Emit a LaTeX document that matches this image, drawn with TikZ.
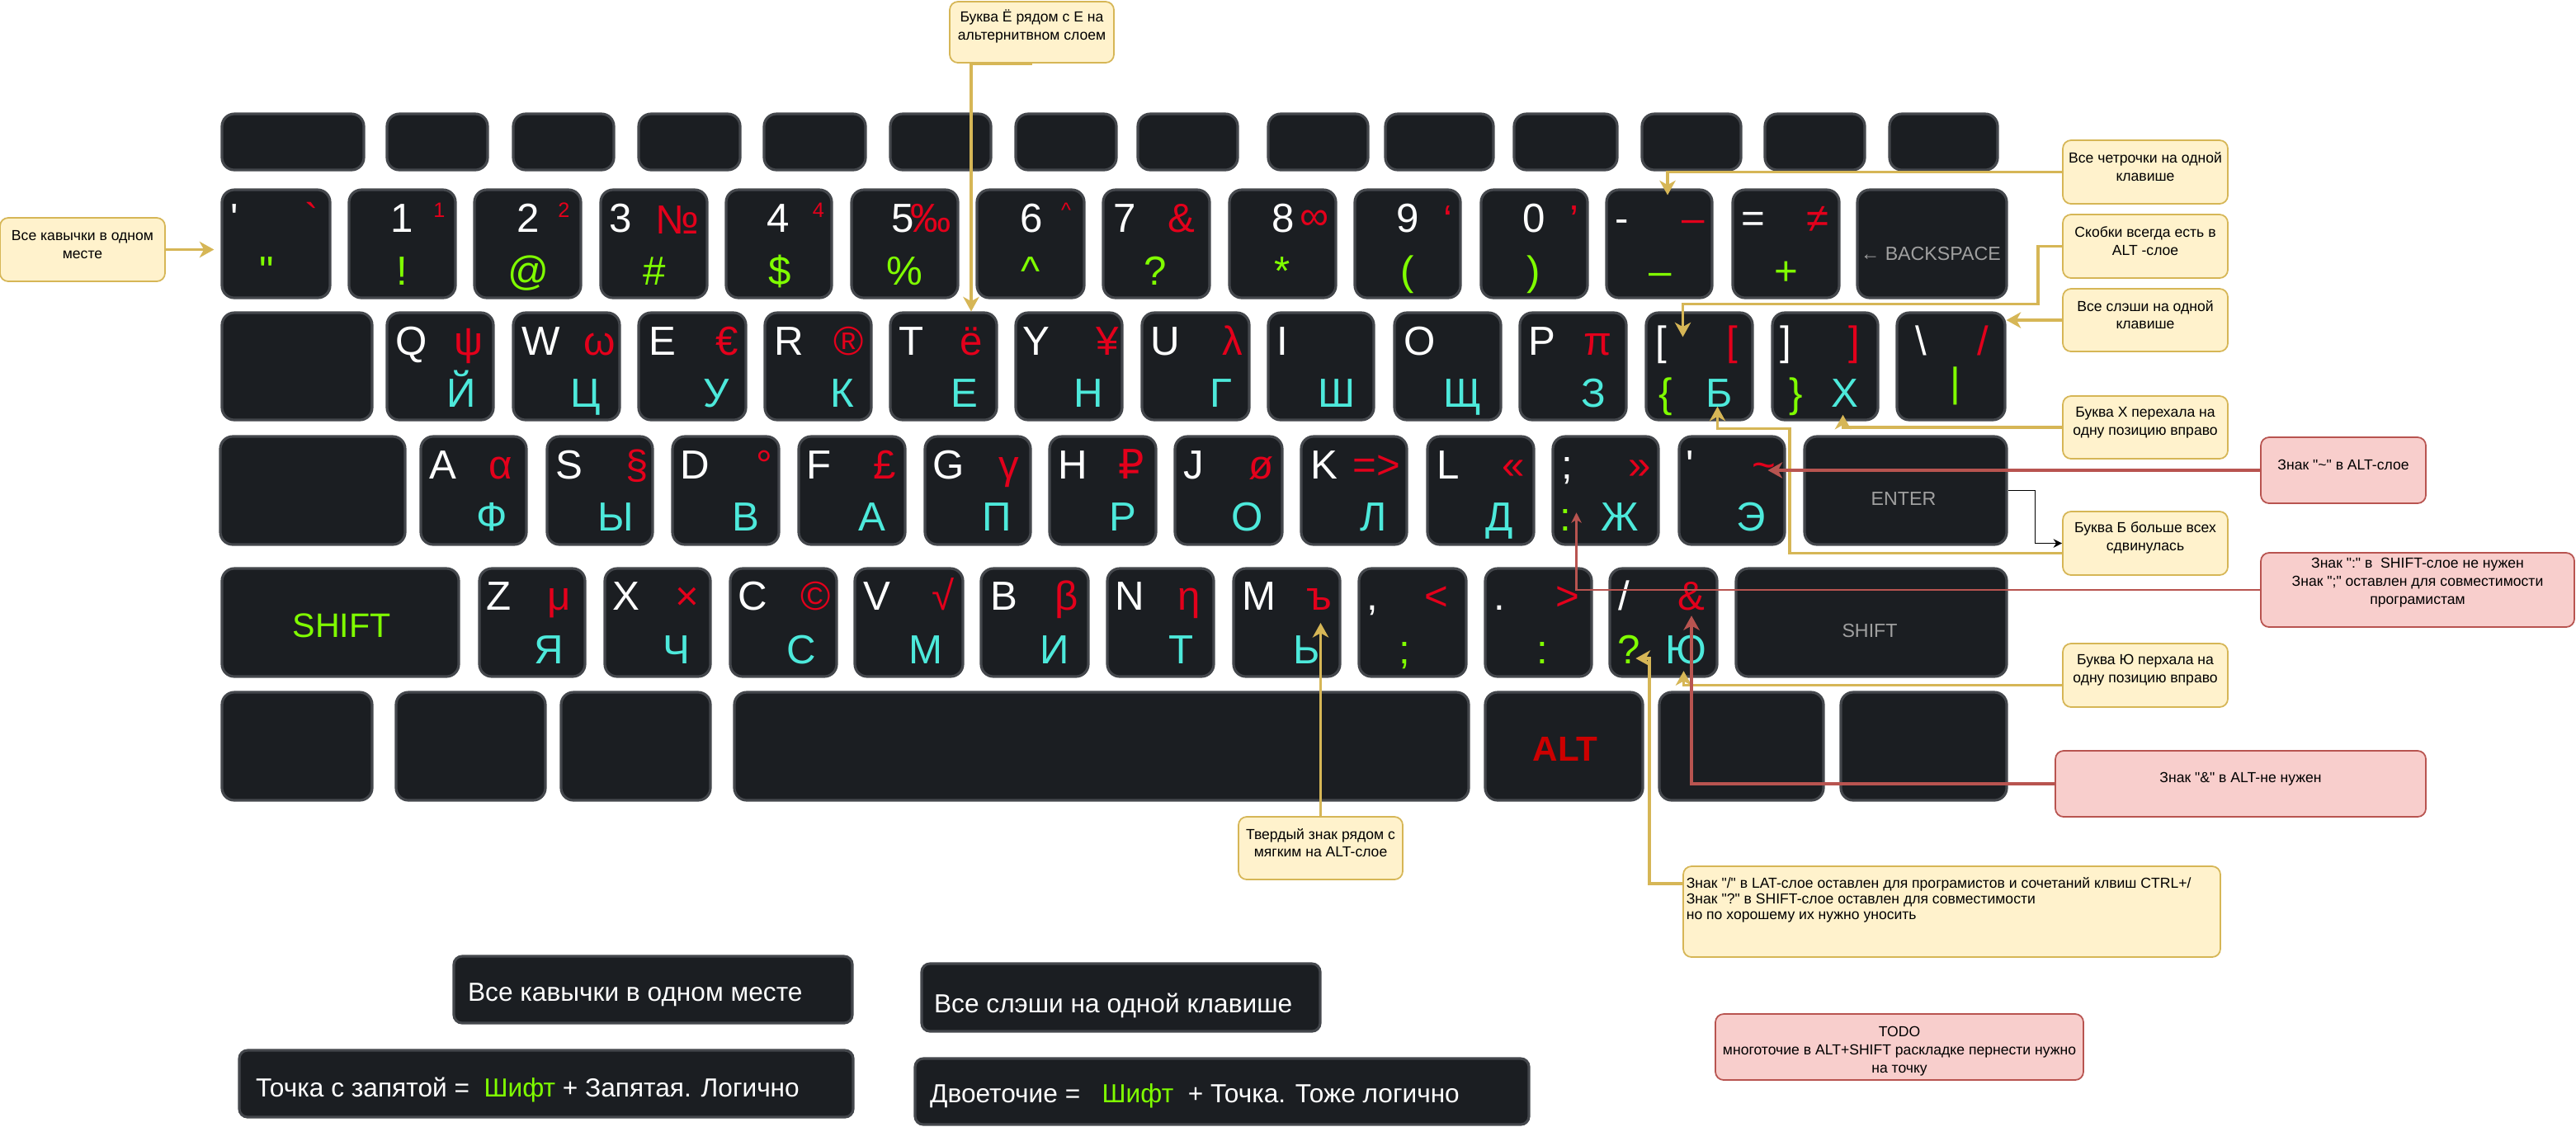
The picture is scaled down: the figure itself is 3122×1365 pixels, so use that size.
\documentclass[tikz,border=0pt]{standalone}
\usepackage{fontspec}
\setmainfont{Liberation Sans}[Ligatures=TeXOff]
\newfontfamily\dejavu{DejaVu Sans}
\usetikzlibrary{arrows.meta,positioning,calc,fit}
\definecolor{colkey}{HTML}{1B1E22}
\definecolor{coledge}{HTML}{44474C}
\definecolor{colalt}{HTML}{E3001B}
\definecolor{colcyr}{HTML}{4DE9DB}
\definecolor{colshift}{HTML}{80FF00}
\definecolor{colgrey}{HTML}{A0A0A0}
\definecolor{colaltkey}{HTML}{CC0000}
\definecolor{colnote}{HTML}{FFF2CC}
\definecolor{colnoteedge}{HTML}{D6B656}
\definecolor{colwarn}{HTML}{F8CECC}
\definecolor{colwarnedge}{HTML}{B85450}

\begin{document}
\begin{tikzpicture}[x=0.01cm, y=-0.01cm,
  kbkey/.style={draw=coledge, fill=colkey, line width=0.9pt, rounded corners=0.15cm, inner sep=0pt},
  lat/.style={text=white, font=\fontsize{14}{16}\selectfont, inner sep=0pt, anchor=base},
  alt/.style={text=colalt, font=\fontsize{14}{16}\selectfont, inner sep=0pt, anchor=base},
  altsm/.style={text=colalt, font=\fontsize{7.2}{8}\selectfont, inner sep=0pt, anchor=base},
  cyr/.style={text=colcyr, font=\fontsize{14}{16}\selectfont, inner sep=0pt, anchor=base},
  shf/.style={text=colshift, font=\fontsize{14}{16}\selectfont, inner sep=0pt, anchor=base},
  keycap/.style={text=colgrey, font=\fontsize{6.6}{8}\selectfont, inner sep=0pt},
  note/.style={draw=colnoteedge, fill=colnote, line width=0.5pt, rounded corners=0.1cm, inner sep=0pt, align=center, font=\fontsize{5}{6.2}\selectfont},
  warn/.style={draw=colwarnedge, fill=colwarn, line width=0.5pt, rounded corners=0.1cm, inner sep=0pt, align=center, font=\fontsize{5}{6.2}\selectfont},
  darkbox/.style={draw=coledge, fill=colkey, line width=0.9pt, rounded corners=0.1cm, inner sep=0pt},
  darktext/.style={text=white, font=\fontsize{9}{11}\selectfont, inner sep=0pt, anchor=west},
  goldarrow/.style={draw=colnoteedge, line width=1pt, -{Stealth[length=5pt,width=5.5pt,inset=1.5pt]}},
  warnarrow/.style={draw=colwarnedge, line width=1.1pt, -{Stealth[length=5pt,width=5.5pt,inset=1.5pt]}},
  warnthin/.style={draw=colwarnedge, line width=0.6pt, -{Stealth[length=3.5pt,width=3.5pt,inset=1pt]}},
  plainarrow/.style={draw=black, line width=0.4pt, -{Stealth[length=3pt,width=3pt]}},
]
  \useasboundingbox (0,0) rectangle (3122,1365);
  \fill[white] (0,0) rectangle (3122,1365);

  % function row
  \node[kbkey, fit={(269,138) (441,206)}] (kesc) {};
  \node[kbkey, fit={(469,138) (591,206)}] (kf1) {};
  \node[kbkey, fit={(622,138) (744,206)}] (kf2) {};
  \node[kbkey, fit={(774,138) (897,206)}] (kf3) {};
  \node[kbkey, fit={(926,138) (1049,206)}] (kf4) {};
  \node[kbkey, fit={(1079,138) (1201,206)}] (kf5) {};
  \node[kbkey, fit={(1231,138) (1353,206)}] (kf6) {};
  \node[kbkey, fit={(1379,138) (1500,206)}] (kf7) {};
  \node[kbkey, fit={(1537,138) (1658,206)}] (kf8) {};
  \node[kbkey, fit={(1679,138) (1810,206)}] (kf9) {};
  \node[kbkey, fit={(1835,138) (1960,206)}] (kf10) {};
  \node[kbkey, fit={(1990,138) (2110,206)}] (kf11) {};
  \node[kbkey, fit={(2139,138) (2260,206)}] (kf12) {};
  \node[kbkey, fit={(2290,138) (2421,206)}] (kf13) {};

  % number row
  \node[kbkey, fit={(269,230) (400,361)}] (kgrave) {};
  \node[kbkey, fit={(423,230) (552,361)}] (k1) {};
  \node[kbkey, fit={(575,230) (704,361)}] (k2) {};
  \node[kbkey, fit={(728,230) (857,361)}] (k3) {};
  \node[kbkey, fit={(880,230) (1008,361)}] (k4) {};
  \node[kbkey, fit={(1032,230) (1161,361)}] (k5) {};
  \node[kbkey, fit={(1184,230) (1314,361)}] (k6) {};
  \node[kbkey, fit={(1337,230) (1466,361)}] (k7) {};
  \node[kbkey, fit={(1490,230) (1619,361)}] (k8) {};
  \node[kbkey, fit={(1642,230) (1770,361)}] (k9) {};
  \node[kbkey, fit={(1795,230) (1924,361)}] (k0) {};
  \node[kbkey, fit={(1947,230) (2075,361)}] (kminus) {};
  \node[kbkey, fit={(2100,230) (2229,361)}] (kequal) {};
  \node[kbkey, fit={(2251,230) (2432,361)}] (kback) {};

  \node[lat] (lgrave) at (284.5,281) {'}; \node[alt] (rgrave) at (378,281) {`}; \node[shf] (ggrave) at (323,345) {"};
  \node[lat] (l1) at (487.5,281) {1}; \node[altsm] (r1) at (532.5,263) {1}; \node[shf] (g1) at (487.5,345) {!};
  \node[lat] (l2) at (640,281) {2}; \node[altsm] (r2) at (683.5,263) {2}; \node[shf] (g2) at (640,345) {@};
  \node[lat] (l3) at (752.5,281) {3}; \node[alt] (r3) at (820.5,283) {№}; \node[shf] (g3) at (793,345) {\#};
  \node[lat] (l4) at (943.5,281) {4}; \node[altsm] (r4) at (992,263) {4}; \node[shf] (g4) at (945,345) {\$};
  \node[lat] (l5) at (1094.5,281) {5}; \node[alt] (r5) at (1128,281) {‰}; \node[shf] (g5) at (1096.5,345) {\%};
  \node[lat] (l6) at (1250,281) {6}; \node[altsm] (r6) at (1292,263) {\textasciicircum}; \node[shf] (g6) at (1249.5,345) {\textasciicircum};
  \node[lat] (l7) at (1363,281) {7}; \node[alt] (r7) at (1432,281) {\&}; \node[shf] (g7) at (1400,345) {?};
  \node[lat] (l8) at (1555.5,281) {8}; \node[alt] (r8) at (1593,278) {∞}; \node[shf] (g8) at (1554,345) {*};
  \node[lat] (l9) at (1706.5,281) {9}; \node[alt] (r9) at (1754.5,283) {‘}; \node[shf] (g9) at (1705.5,345) {(};
  \node[lat] (l0) at (1859.5,281) {0}; \node[alt] (r0) at (1908,283) {’}; \node[shf] (g0) at (1859,345) {)};
  \node[lat] (lminus) at (1966,281) {-}; \node[alt] (rminus) at (2052,281) {–}; \node[shf] (gminus) at (2012,345) {–};
  \node[lat] (lequal) at (2125,281) {=}; \node[alt] (requal) at (2203,281) {≠}; \node[shf] (gequal) at (2165,345) {+};
  \node[keycap] (tback) at (2340,307) {← BACKSPACE};

  % top letter row
  \node[kbkey, fit={(269,379) (451,509)}] (ktab) {};
  \node[kbkey, fit={(469,379) (598,509)}] (kq) {};
  \node[kbkey, fit={(622,379) (751,509)}] (kw) {};
  \node[kbkey, fit={(774,379) (904,509)}] (ke) {};
  \node[kbkey, fit={(927,379) (1056,509)}] (kr) {};
  \node[kbkey, fit={(1079,379) (1208,509)}] (kt) {};
  \node[kbkey, fit={(1231,379) (1360,509)}] (ky) {};
  \node[kbkey, fit={(1384,379) (1514,509)}] (ku) {};
  \node[kbkey, fit={(1537,379) (1665,509)}] (ki) {};
  \node[kbkey, fit={(1690,379) (1819,509)}] (ko) {};
  \node[kbkey, fit={(1842,379) (1971,509)}] (kp) {};
  \node[kbkey, fit={(1995,379) (2124,509)}] (klbr) {};
  \node[kbkey, fit={(2148,379) (2276,509)}] (krbr) {};
  \node[kbkey, fit={(2299,379) (2430,509)}] (kbsl) {};

  \node[lat] (lq) at (499,430) {Q}; \node[alt] (rq) at (568.5,430) {ψ}; \node[cyr] (yq) at (559.5,493) {Й};
  \node[lat] (lw) at (656,430) {W}; \node[alt] (rw) at (727,430) {ω}; \node[cyr] (yw) at (710,493) {Ц};
  \node[lat] (le) at (802.5,430) {E}; \node[alt] (re) at (881,430) {€}; \node[cyr] (ye) at (868.5,493) {У};
  \node[lat] (lr) at (956,430) {R}; \node[alt] (rr) at (1028.5,430) {®}; \node[cyr] (yr) at (1021,493) {К};
  \node[lat] (lt) at (1104.5,430) {T}; \node[alt] (rt) at (1177,430) {ё}; \node[cyr] (yt) at (1168.5,493) {Е};
  \node[lat] (ly) at (1256,430) {Y}; \node[alt] (ry) at (1342,430) {¥}; \node[cyr] (yy) at (1319,493) {Н};
  \node[lat] (lu) at (1412.5,430) {U}; \node[alt] (ru) at (1494,430) {λ}; \node[cyr] (yu) at (1479.5,493) {Г};
  \node[lat] (li) at (1554.5,430) {I}; \node[cyr] (yi) at (1620,493) {Ш};
  \node[lat] (lo) at (1720.5,430) {O}; \node[cyr] (yo) at (1773,493) {Щ};
  \node[lat] (lp) at (1868.5,430) {P}; \node[alt] (rp) at (1936,430) {π}; \node[cyr] (yp) at (1931.5,493) {З};
  \node[lat] (llbr) at (2013,430) {[}; \node[alt] (rlbr) at (2099.5,430) {[}; \node[shf] (glbr) at (2019,493) {\{}; \node[cyr] (ylbr) at (2083.5,493) {Б};
  \node[lat] (lrbr) at (2164.5,430) {]}; \node[alt] (rrbr) at (2247.5,430) {]}; \node[shf] (grbr) at (2176.5,493) {\}}; \node[cyr] (yrbr) at (2235.5,493) {Х};
  \node[lat] (lbsl) at (2328,430) {\textbackslash}; \node[alt] (rbsl) at (2403.5,430) {/}; \node[shf] (gbsl) at (2370,480) {|};

  % home row
  \node[kbkey, fit={(267,529) (491,660)}] (kcaps) {};
  \node[kbkey, fit={(510,529) (638,660)}] (ka) {};
  \node[kbkey, fit={(663,529) (791,660)}] (ks) {};
  \node[kbkey, fit={(815,529) (944,660)}] (kd) {};
  \node[kbkey, fit={(968,529) (1097,660)}] (kf) {};
  \node[kbkey, fit={(1121,529) (1249,660)}] (kg) {};
  \node[kbkey, fit={(1272,529) (1401,660)}] (kh) {};
  \node[kbkey, fit={(1424,529) (1554,660)}] (kj) {};
  \node[kbkey, fit={(1577,529) (1705,660)}] (kk) {};
  \node[kbkey, fit={(1730,529) (1859,660)}] (kl) {};
  \node[kbkey, fit={(1882,529) (2010,660)}] (ksemi) {};
  \node[kbkey, fit={(2035,529) (2163,660)}] (kquote) {};
  \node[kbkey, fit={(2187,529) (2432,660)}] (kenter) {};

  \node[lat] (la) at (537,580) {A}; \node[alt] (ra) at (607,580) {α}; \node[cyr] (ya) at (596.5,643) {Ф};
  \node[lat] (ls) at (689.5,580) {S}; \node[alt] (rs) at (772.5,580) {§}; \node[cyr] (ys) at (746.5,643) {Ы};
  \node[lat] (ld) at (842.5,580) {D}; \node[alt] (rd) at (926,580) {°}; \node[cyr] (yd) at (904,643) {В};
  \node[lat] (lf) at (993,580) {F}; \node[alt] (rf) at (1072.5,580) {£}; \node[cyr] (yf) at (1056.5,643) {А};
  \node[lat] (lg) at (1150,580) {G}; \node[alt] (rg) at (1222.5,580) {γ}; \node[cyr] (yg) at (1208,643) {П};
  \node[lat] (lh) at (1300,580) {H}; \node[alt] (rh) at (1371,580) {\dejavu ₽}; \node[cyr] (yh) at (1361,643) {Р};
  \node[lat] (lj) at (1446.5,580) {J}; \node[alt] (rj) at (1529,580) {ø}; \node[cyr] (yj) at (1511.5,643) {О};
  \node[lat] (lk) at (1605,580) {K}; \node[alt] (rk) at (1668,580) {=>}; \node[cyr] (yk) at (1665,643) {Л};
  \node[lat] (ll) at (1755,580) {L}; \node[alt] (rl) at (1834.5,580) {«}; \node[cyr] (yl) at (1817.5,643) {Д};
  \node[lat] (lsemi) at (1899.5,580) {;}; \node[alt] (rsemi) at (1987.5,580) {»}; \node[shf] (gsemi) at (1897.5,643) {:}; \node[cyr] (ysemi) at (1963,643) {Ж};
  \node[lat] (lquote) at (2048.5,580) {'}; \node[alt] (rquote) at (2137.5,580) {\textasciitilde}; \node[cyr] (yquote) at (2122.5,643) {Э};
  \node[keycap] (tenter) at (2307,604) {ENTER};

  % bottom letter row
  \node[kbkey, fit={(269,689) (556,820)}] (klshift) {};
  \node[kbkey, fit={(581,689) (709,820)}] (kz) {};
  \node[kbkey, fit={(733,689) (861,820)}] (kx) {};
  \node[kbkey, fit={(885,689) (1014,820)}] (kc) {};
  \node[kbkey, fit={(1036,689) (1167,820)}] (kv) {};
  \node[kbkey, fit={(1189,689) (1319,820)}] (kb) {};
  \node[kbkey, fit={(1342,689) (1471,820)}] (kn) {};
  \node[kbkey, fit={(1495,689) (1624,820)}] (km) {};
  \node[kbkey, fit={(1647,689) (1777,820)}] (kcomma) {};
  \node[kbkey, fit={(1800,689) (1929,820)}] (kdot) {};
  \node[kbkey, fit={(1951,689) (2081,820)}] (kslash) {};
  \node[kbkey, fit={(2104,689) (2432,820)}] (krshift) {};

  \node[text=colshift, font=\fontsize{11.7}{14}\selectfont, inner sep=0pt] (tlshift) at (414,758) {SHIFT};
  \node[lat] (lz) at (605,739) {Z}; \node[alt] (rz) at (677.5,739) {μ}; \node[cyr] (yz) at (665.5,804) {Я};
  \node[lat] (lx) at (759,739) {X}; \node[alt] (rx) at (832.5,739) {×}; \node[cyr] (yx) at (820,804) {Ч};
  \node[lat] (lc) at (912,739) {C}; \node[alt] (rc) at (988.5,739) {©}; \node[cyr] (yc) at (971.5,804) {С};
  \node[lat] (lv) at (1063,739) {V}; \node[alt] (rv) at (1143,739) {√}; \node[cyr] (yv) at (1122,804) {М};
  \node[lat] (lb) at (1216.5,739) {B}; \node[alt] (rb) at (1293,739) {β}; \node[cyr] (yb) at (1278,804) {И};
  \node[lat] (ln) at (1369,739) {N}; \node[alt] (rn) at (1441,739) {η}; \node[cyr] (yn) at (1432,804) {Т};
  \node[lat] (lm) at (1525.5,739) {M}; \node[alt] (rm) at (1599,739) {ъ}; \node[cyr] (ym) at (1584,804) {Ь};
  \node[lat] (lcomma) at (1663.5,739) {,}; \node[alt] (rcomma) at (1740.5,739) {<}; \node[shf] (gcomma) at (1702.5,804) {;};
  \node[lat] (ldot) at (1817.5,739) {.}; \node[alt] (rdot) at (1899.5,739) {>}; \node[shf] (gdot) at (1869.5,804) {:};
  \node[lat] (lslash) at (1968,739) {/}; \node[alt] (rslash) at (2050,739) {\&}; \node[shf] (gslash) at (1974,804) {?}; \node[cyr] (yslash) at (2043.5,804) {Ю};
  \node[keycap] (trshift) at (2266,764) {SHIFT};

  % space row
  \node[kbkey, fit={(269,839) (451,970)}] (klctrl) {};
  \node[kbkey, fit={(480,839) (661,970)}] (kwin) {};
  \node[kbkey, fit={(680,839) (861,970)}] (klalt) {};
  \node[kbkey, fit={(890,839) (1780,970)}] (kspace) {};
  \node[kbkey, fit={(1800,839) (1991,970)}] (kralt) {};
  \node[kbkey, fit={(2011,839) (2210,970)}] (kmenu) {};
  \node[kbkey, fit={(2231,839) (2432,970)}] (krctrl) {};
  \node[text=colaltkey, font=\fontsize{12}{14}\selectfont\bfseries, inner sep=0pt] (tralt) at (1897,908) {ALT};

  % notes
  \node[note, fit={(0,264) (200,341)}] (nquotes) {Все кавычки в одном\\месте};
  \node[note, fit={(1151,2) (1350,76)}] (nyo) {Буква Ё рядом с Е на\\альтернитвном слоем};
  \node[note, fit={(2500,170) (2700,247)}] (ndash) {Все четрочки на одной\\клавише};
  \node[note, fit={(2500,260) (2700,337)}] (nbrackets) {Скобки всегда есть в\\ALT -слое};
  \node[note, fit={(2500,350) (2700,426)}] (nslashes) {Все слэши на одной\\клавише};
  \node[note, fit={(2500,480) (2700,556)}] (nxmove) {Буква Х перехала на\\одну позицию вправо};
  \node[note, fit={(2500,620) (2700,697)}] (nbmove) {Буква Б больше всех\\сдвинулась};
  \node[note, fit={(2500,780) (2700,857)}] (nyumove) {Буква Ю перхала на\\одну позицию вправо};
  \node[note, fit={(1501,990) (1700,1066)}] (nhard) {Твердый знак рядом с\\мягким на ALT-слое};
  \node[note, fit={(2040,1050) (2691,1160)}] (nqnote) {};
  \node[anchor=west, align=left, inner sep=0pt, font=\fontsize{5}{5.4}\selectfont] (tqnote) at ($(nqnote.west)+(4,-14)$) {Знак "/" в LAT-слое оставлен для програмистов и сочетаний клвиш CTRL+/\\Знак "?" в SHIFT-слое оставлен для совместимости\\но по хорошему их нужно уносить};
  \node[warn, fit={(2740,530) (2940,610)}] (ntilde) {Знак "\textasciitilde" в ALT-слое};
  \node[warn, fit={(2740,670) (3120,760)}] (ncolon) {};
  \node[align=center, inner sep=0pt, font=\fontsize{5}{6.2}\selectfont] (tcolon) at ($(ncolon.center)+(0,-9)$) {Знак ":" в\ \ SHIFT-слое не нужен\\Знак ";" оставлен для совместимости\\програмистам};
  \node[warn, fit={(2491,910) (2940,990)}] (namp) {Знак "\&" в ALT-не нужен};
  \node[warn, fit={(2079,1229) (2525,1309)}] (ntodo) {};
  \node[align=center, inner sep=0pt, font=\fontsize{5}{6.2}\selectfont] (ttodo) at ($(ntodo.center)+(0,5)$) {TODO\\многоточие в ALT+SHIFT раскладке пернести нужно\\на точку};

  % summary boxes
  \node[darkbox, fit={(550,1159) (1033,1240)}] (dquotes) {};
  \node[darktext] (tquotes) at ($(dquotes.west)+(18,6)$) {Все кавычки в одном месте};
  \node[darkbox, fit={(290,1273) (1034,1354)}] (dsemi) {};
  \node[darktext] (tsemi) at ($(dsemi.west)+(21,7)$) {Точка с запятой =\ \ \textcolor{colshift}{Шифт} + Запятая. Логично};
  \node[darkbox, fit={(1117,1168) (1600,1250)}] (dslashes) {};
  \node[darktext] (tslashes) at ($(dslashes.west)+(16,10)$) {Все слэши на одной клавише};
  \node[darkbox, fit={(1109,1283) (1853,1363)}] (dcolon) {};
  \node[darktext] (tcolontext) at ($(dcolon.west)+(19,5)$) {Двоеточие =\ \ \ \textcolor{colshift}{Шифт}\ \ + Точка. Тоже логично};

  % connectors
  \draw[goldarrow, shorten >=0.08cm] (nquotes.east) -- (nquotes.east -| kgrave.west);
  \draw[goldarrow] (nyo.south) -| (rt |- kt.north);
  \draw[goldarrow] (ndash.west) -| ($(kminus.north)+(10,8)$);
  \draw[goldarrow] (nbrackets.west) -- ++(-29,0) |- ($(klbr.north)+(-20,-9)$) -- ($(klbr.north)+(-20,31)$);
  \draw[goldarrow] (nslashes.west) -- (nslashes.west -| kbsl.east);
  \draw[goldarrow] (nxmove.west) -| ($(yrbr.south)+(-2,9)$);
  \draw[goldarrow] ($(nbmove.west)+(0,12)$) -- ++(-330,0) |- ($(ylbr.south)+(-2,26)$) -- ($(ylbr.south)+(-2,-1)$);
  \draw[plainarrow] (kenter.east) -- ++(33,0) |- (nbmove.west);
  \draw[warnarrow] (ntilde.west) -- ($(ntilde.west -| rquote.center)+(5,0)$);
  \draw[warnthin] (ncolon.west) -| ($(gsemi.north)+(13,5)$);
  \draw[goldarrow] ($(nyumove.west)+(0,12)$) -| ($(yslash.south)+(-3,8)$);
  \draw[warnarrow] (namp.west) -| ($(rslash.south)+(0,6)$);
  \draw[goldarrow] ($(nqnote.north west)+(0,22)$) -- ++(-40,0) |- ($(gslash.base east)+(-6,-6)$);
  \draw[goldarrow] (nhard.north) -- ($(nhard.north |- rm.base)+(0,16)$);
\end{tikzpicture}
\end{document}
